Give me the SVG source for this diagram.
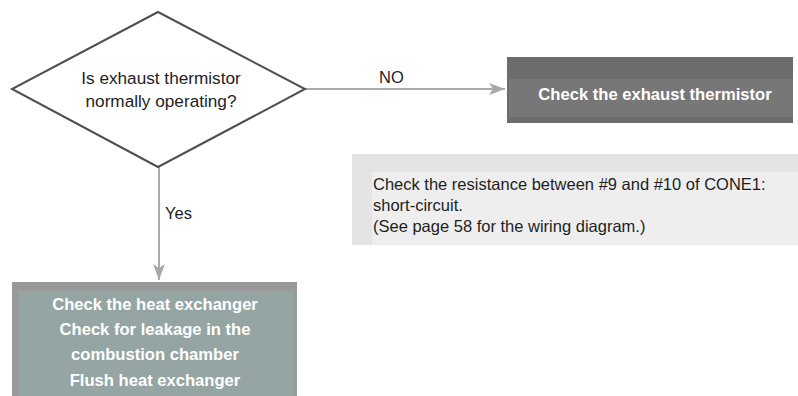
<svg xmlns="http://www.w3.org/2000/svg" width="798" height="396" viewBox="0 0 798 396">
  <defs>
    <marker id="arrow" markerWidth="16" markerHeight="12" refX="16" refY="6" orient="auto" markerUnits="userSpaceOnUse">
      <path d="M0,0 L16,6 L0,12 L4,6 Z" fill="#a8a8a8"/>
    </marker>
    <style>
      .txt { font-family: "Liberation Sans", Arial, sans-serif; fill: #1e1e1e; }
      .bold { font-family: "Liberation Sans", Arial, sans-serif; font-weight: bold; fill: #ffffff; font-size: 16.6px; }
      .link { stroke: #ababab; stroke-width: 2; fill: none; }
    </style>
  </defs>
  <rect width="798" height="396" fill="#ffffff"/>

  <!-- connectors -->
  <g id="connectors">
    <line class="link" x1="305" y1="89" x2="505" y2="89" marker-end="url(#arrow)"/>
    <rect x="376" y="70" width="46" height="18" fill="#ffffff"/>
    <text class="txt" x="379" y="83" font-size="16.5">NO</text>
    <line class="link" x1="159" y1="167" x2="159" y2="280" marker-end="url(#arrow)"/>
    <text class="txt" x="165" y="219" font-size="16.5">Yes</text>
  </g>

  <!-- decision -->
  <g id="decision">
    <polygon points="158,12 305,89 158,167 12,89" fill="#ffffff" stroke="#505050" stroke-width="2"/>
    <text class="txt" x="161" y="84" font-size="17.2" text-anchor="middle">Is exhaust thermistor</text>
    <text class="txt" x="161" y="107" font-size="17.2" text-anchor="middle">normally operating?</text>
  </g>

  <!-- action: check thermistor -->
  <g id="check-thermistor">
    <rect x="507" y="57" width="286" height="66" fill="#6c6c6c"/>
    <rect x="509" y="79" width="284" height="38" fill="#777777"/>
    <text class="bold" x="655" y="100" text-anchor="middle">Check the exhaust thermistor</text>
  </g>

  <!-- note -->
  <g id="note">
    <rect x="352" y="154" width="446" height="91" fill="#e4e4e4"/>
    <rect x="372" y="172" width="426" height="73" fill="#eeeeee"/>
    <text class="txt" x="373" y="190" font-size="16.5">Check the resistance between #9 and #10 of CONE1:</text>
    <text class="txt" x="373" y="211" font-size="16.5">short-circuit.</text>
    <text class="txt" x="373" y="232" font-size="16.5">(See page 58 for the wiring diagram.)</text>
  </g>

  <!-- action: heat exchanger -->
  <g id="heat-exchanger">
    <rect x="12" y="282" width="285" height="120" fill="#999999"/>
    <rect x="18" y="291" width="275" height="111" fill="#95a5a3"/>
    <text class="bold" x="155" y="310" text-anchor="middle">Check the heat exchanger</text>
    <text class="bold" x="155" y="335" text-anchor="middle">Check for leakage in the</text>
    <text class="bold" x="155" y="360" text-anchor="middle">combustion chamber</text>
    <text class="bold" x="155" y="386" text-anchor="middle">Flush heat exchanger</text>
  </g>
</svg>
